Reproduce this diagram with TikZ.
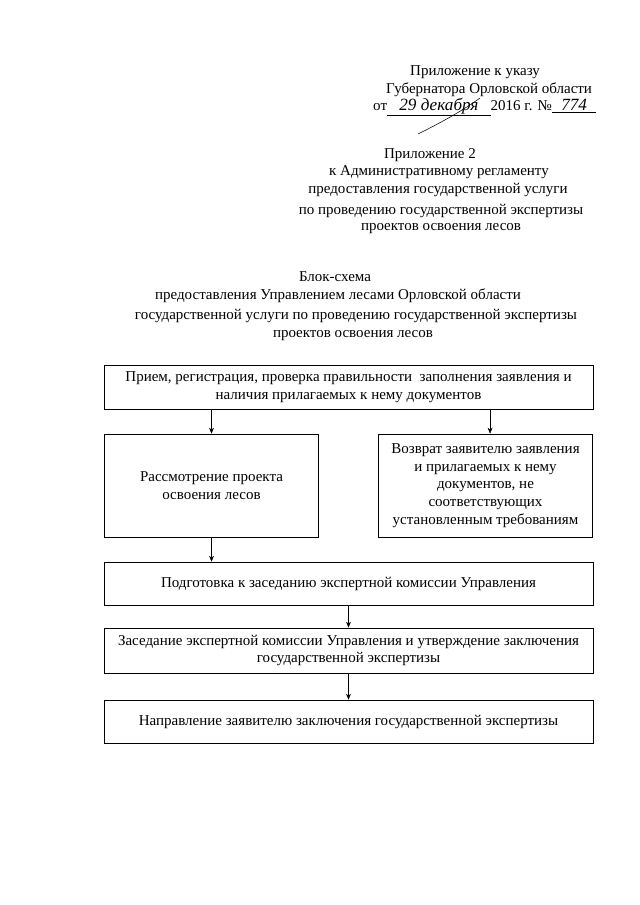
\documentclass[tikz,border=0pt]{standalone}
\usepackage{fontspec}
\setmainfont{Liberation Serif}
\usetikzlibrary{arrows.meta,positioning,calc}

\begin{document}
\begin{tikzpicture}[x=0.328mm, y=-0.328mm,
      box/.style={draw, line width=0.6pt, align=center, inner sep=2pt,
                  font=\fontsize{14pt}{16.5pt}\selectfont},
      wide/.style={box, minimum width=160.4mm},
      half/.style={box, minimum width=70mm, minimum height=33.8mm},
      txt/.style={inner sep=0pt, font=\fontsize{14pt}{16.5pt}\selectfont},
      >={Stealth[length=5.5pt,width=4.5pt]}]
    \useasboundingbox (0,0) rectangle (640,905);
    % decree annex
    \node[txt, anchor=west] (ann) at (410,72) {Приложение к указу};
    \node[txt, anchor=west] (gov) at (386,90) {Губернатора Орловской области};
    \node[txt, anchor=west] (num) at (373,107)
      {от\underline{\makebox[34mm]{\fontsize{16pt}{16pt}\selectfont\itshape 29 декабря}}2016 г. №\underline{\makebox[14.5mm]{\fontsize{16pt}{16pt}\selectfont\itshape 774}}};
    \draw[line width=0.5pt] (480,98) .. controls (458,114) and (432,127) .. (418,134);
    % regulation annex
    \node[txt] (app2) at (430,155) {Приложение 2};
    \node[txt] (reg1) at (439,172) {к Административному регламенту};
    \node[txt] (reg2) at (438,190) {предоставления государственной услуги};
    \node[txt] (reg3) at (441,211) {по проведению государственной экспертизы};
    \node[txt] (reg4) at (441,229) {проектов освоения лесов};
    % title
    \node[txt] (ttl1) at (335,277) {Блок-схема};
    \node[txt] (ttl2) at (338,296) {предоставления Управлением лесами Орловской области};
    \node[txt] (ttl3) at (356,316) {государственной услуги по проведению государственной экспертизы};
    \node[txt] (ttl4) at (353,336) {проектов освоения лесов};
    % flow
    \node[wide, minimum height=14.4mm] (intake) at (348.5,387)
      {Прием, регистрация, проверка правильности\ \ заполнения заявления и\\
       наличия прилагаемых к нему документов};
    \node[half] (review) at (211.5,485.5) {Рассмотрение проекта\\освоения лесов};
    \node[half] (back) at (485.5,485.5)
      {Возврат заявителю заявления\\и прилагаемых к нему\\документов, не\\
       соответствующих\\установленным требованиям};
    \node[wide, minimum height=14.1mm] (prep) at (348.5,583.5)
      {Подготовка к заседанию экспертной комиссии Управления};
    \node[wide, minimum height=14.8mm] (meet) at (348.5,650.5)
      {Заседание экспертной комиссии Управления и утверждение заключения\\
       государственной экспертизы};
    \node[wide, minimum height=14.1mm] (send) at (348.5,721.5)
      {Направление заявителю заключения государственной экспертизы};
    \draw[->] (intake.south -| review.north) -- (review.north);
    \draw[->] ([xshift=1.5mm]intake.south -| back.north) -- ([xshift=1.5mm]back.north);
    \draw[->] (review.south) -- (review.south |- prep.north);
    \draw[->] (prep.south) -- (meet.north);
    \draw[->] (meet.south) -- (send.north);
  \end{tikzpicture}
\end{document}
